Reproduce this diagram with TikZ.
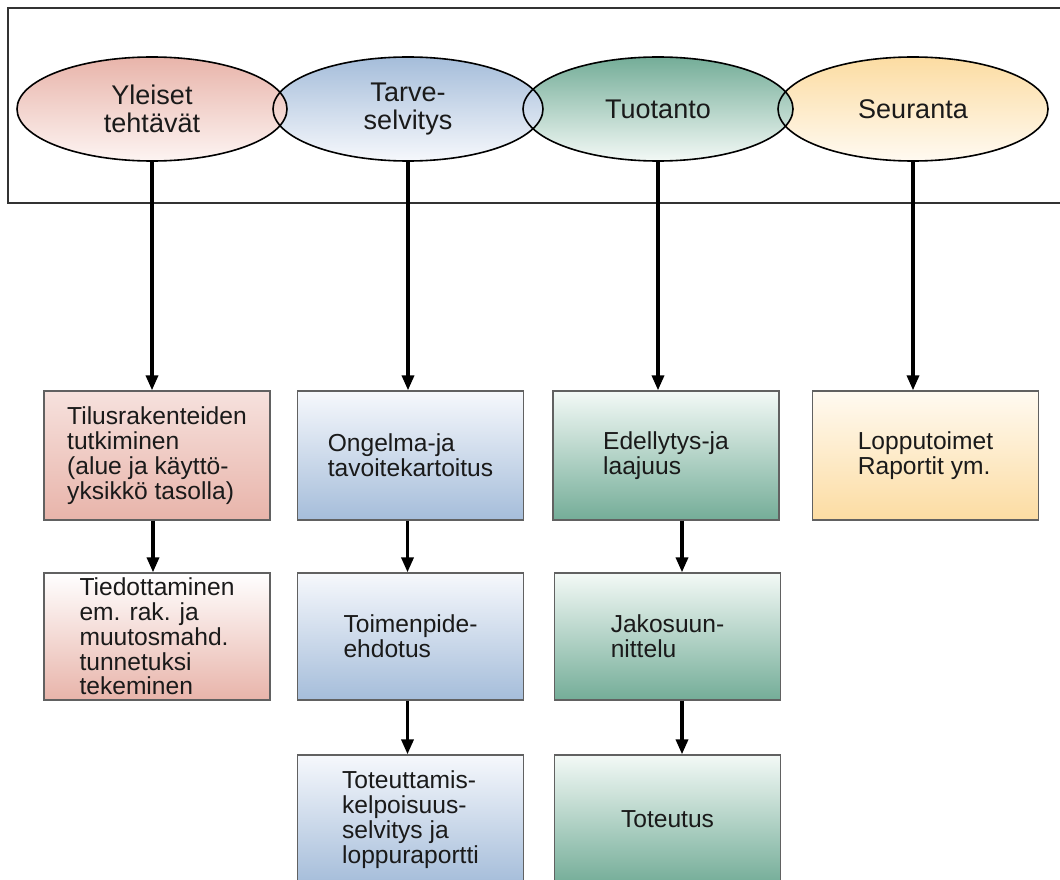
\documentclass[tikz,border=0pt]{standalone}
\usepackage{fontspec}
\setmainfont{Liberation Sans}
\usetikzlibrary{arrows.meta,shapes.geometric}
\definecolor{pinkD}{HTML}{E8B4AA}
\definecolor{pinkL}{HTML}{FDF4F2}
\definecolor{blueD}{HTML}{A5BDDA}
\definecolor{blueL}{HTML}{F6F8FC}
\definecolor{greenD}{HTML}{74AD98}
\definecolor{greenL}{HTML}{F3F9F6}
\definecolor{yelD}{HTML}{FCDCA2}
\definecolor{yelL}{HTML}{FFFAF1}
\definecolor{txt}{HTML}{1A1A1A}
\begin{document}
\begin{tikzpicture}[x=1pt,y=-1pt,
  ell/.style={ellipse, draw=none, minimum width=270pt, minimum height=104pt,
    inner sep=0pt, font=\fontsize{27}{28}\selectfont, align=center, text=txt},
  ellline/.style={draw=black, line width=1.6pt},
  box/.style={rectangle, draw=black!62, line width=1.3pt, minimum width=226pt,
    inner sep=0pt, font=\fontsize{24.6}{24.8}\selectfont, align=left, text=txt},
  arr/.style={draw=black, line width=3.4pt, -{Triangle[width=12pt,length=15pt]}},
  frame/.style={draw=black!80, line width=1.6pt}
]
\useasboundingbox (0,0) rectangle (1060,880);

% frame
\draw[frame] (8,8) rectangle (1080,203);

% ellipses (right to left, so the left one lies on top)
\node[ell, top color=yelD, bottom color=yelL]     (e4) at (913,109) {Seuranta};
\node[ell, top color=greenD, bottom color=greenL] (e3) at (658,109) {Tuotanto};
\node[ell, top color=blueD, bottom color=blueL]   (e2) at (408,109) {Tarve-\\selvitys};
\node[ell, top color=pinkD, bottom color=pinkL]   (e1) at (152,109) {Yleiset\\tehtävät};
\foreach \n in {e1,e2,e3,e4}
  \draw[ellline] (\n.center) ellipse [x radius=135pt, y radius=52pt];

% boxes
\node[box, minimum height=129pt, top color=pinkL!40!pinkD!60, bottom color=pinkD] (b11) at (157,455.5)
  {Tilusrakenteiden\\tutkiminen\\(alue ja käyttö-\\yksikkö tasolla)};
\node[box, minimum height=127pt, top color=white, bottom color=pinkD] (b12) at (157,636.5)
  {Tiedottaminen\\em. rak. ja\\muutosmahd.\\tunnetuksi\\tekeminen};

\node[box, minimum height=129pt, top color=blueL, bottom color=blueD] (b21) at (410.5,455.5)
  {Ongelma-ja\\tavoitekartoitus};
\node[box, minimum height=127pt, top color=blueL, bottom color=blueD] (b22) at (410.5,636.5)
  {Toimenpide-\\ehdotus};
\node[box, minimum height=129pt, top color=blueL, bottom color=blueD] (b23) at (410.5,819.5)
  {Toteuttamis-\\kelpoisuus-\\selvitys ja\\loppuraportti};

\node[box, minimum height=129pt, top color=greenL, bottom color=greenD] (b31) at (666,455.5)
  {Edellytys-ja\\laajuus};
\node[box, minimum height=127pt, top color=greenL, bottom color=greenD] (b32) at (667.5,636.5)
  {Jakosuun-\\nittelu};
\node[box, minimum height=129pt, top color=greenL, bottom color=greenD] (b33) at (667.5,819.5)
  {Toteutus};

\node[box, minimum height=129pt, top color=yelL, bottom color=yelD] (b41) at (925.5,455.5)
  {Lopputoimet\\Raportit ym.};

% connectors
\draw[arr] (e1.south) -- (e1.south |- b11.north);
\draw[arr] (e2.south) -- (e2.south |- b21.north);
\draw[arr] (e3.south) -- (e3.south |- b31.north);
\draw[arr] (e4.south) -- (e4.south |- b41.north);

\draw[arr] ([xshift=-4pt]b11.south) -- ([xshift=-4pt]b12.north);
\draw[arr] ([xshift=-3pt]b21.south) -- ([xshift=-3pt]b22.north);
\draw[arr] ([xshift=-3pt]b22.south) -- ([xshift=-3pt]b23.north);
\draw[arr] ([xshift=16pt]b31.south) -- ([xshift=14.5pt]b32.north);
\draw[arr] ([xshift=14.5pt]b32.south) -- ([xshift=14.5pt]b33.north);
\end{tikzpicture}
\end{document}
